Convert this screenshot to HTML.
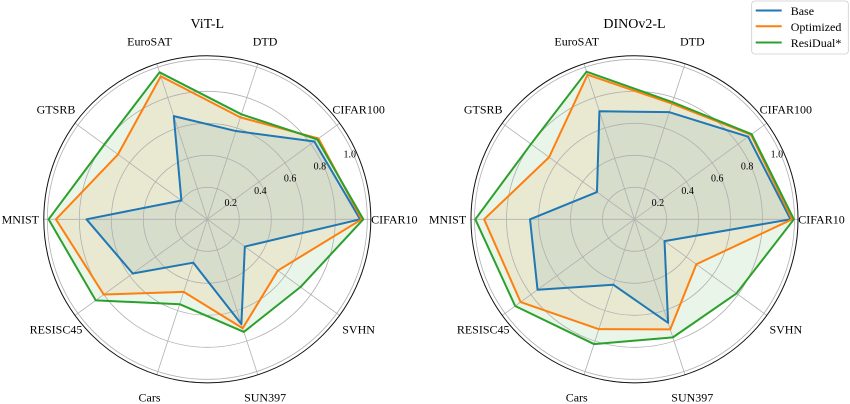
<!DOCTYPE html>
<html>
<head>
<meta charset="utf-8">
<style>
html,body{margin:0;padding:0;background:#fff;}
svg{display:block;}
text{font-family:"Liberation Serif","DejaVu Serif",serif;fill:#000;}
.ax{font-size:12px;text-anchor:middle;}
.rt{font-size:10px;text-anchor:middle;}
.ti{font-size:14px;text-anchor:middle;}
.lg{font-size:12px;}
</style>
</head>
<body>
<svg width="850" height="404" viewBox="0 0 850 404" xmlns="http://www.w3.org/2000/svg">
<rect width="850" height="404" fill="#fff"/>

<!-- ===== LEFT CHART: ViT-L ===== -->
<g transform="translate(207.3 219.3) scale(160 -160)">
  <!-- fills -->
  <polygon fill="#1f77b4" fill-opacity="0.1" points="0.955,0 0.6691,0.4861 0.1792,0.5516 -0.2095,0.6448 -0.1618,0.1176 -0.755,0 -0.4660,-0.3386 -0.0881,-0.2711 0.2129,-0.6553 0.2346,-0.1705"/>
  <polygon fill="#ff7f0e" fill-opacity="0.1" points="0.965,0 0.6949,0.5049 0.2070,0.6372 -0.2905,0.8940 -0.5582,0.4056 -0.946,0 -0.6472,-0.4702 -0.1474,-0.4537 0.2213,-0.6810 0.4409,-0.3203"/>
  <polygon fill="#2ca02c" fill-opacity="0.1" points="0.975,0 0.6877,0.4996 0.2132,0.6562 -0.2985,0.9187 -0.6432,0.4673 -0.992,0 -0.6974,-0.5067 -0.1724,-0.5307 0.2287,-0.7038 0.5825,-0.4232"/>
  <!-- grid -->
  <g fill="none" stroke="#b0b0b0" stroke-width="0.8" vector-effect="non-scaling-stroke">
    <circle r="0.2" vector-effect="non-scaling-stroke"/>
    <circle r="0.4" vector-effect="non-scaling-stroke"/>
    <circle r="0.6" vector-effect="non-scaling-stroke"/>
    <circle r="0.8" vector-effect="non-scaling-stroke"/>
    <circle r="1.0" vector-effect="non-scaling-stroke"/>
    <line x1="-1.022" y1="0" x2="1.022" y2="0" vector-effect="non-scaling-stroke"/>
    <line x1="0.8268" y1="0.6007" x2="-0.8268" y2="-0.6007" vector-effect="non-scaling-stroke"/>
    <line x1="0.3158" y1="0.9720" x2="-0.3158" y2="-0.9720" vector-effect="non-scaling-stroke"/>
    <line x1="-0.3158" y1="0.9720" x2="0.3158" y2="-0.9720" vector-effect="non-scaling-stroke"/>
    <line x1="-0.8268" y1="0.6007" x2="0.8268" y2="-0.6007" vector-effect="non-scaling-stroke"/>
  </g>
  <circle r="1.022" fill="none" stroke="#111" stroke-width="1" vector-effect="non-scaling-stroke"/>
  <!-- lines -->
  <g fill="none" stroke-width="2" stroke-linejoin="round">
    <polygon stroke="#1f77b4" vector-effect="non-scaling-stroke" points="0.955,0 0.6691,0.4861 0.1792,0.5516 -0.2095,0.6448 -0.1618,0.1176 -0.755,0 -0.4660,-0.3386 -0.0881,-0.2711 0.2129,-0.6553 0.2346,-0.1705"/>
    <polygon stroke="#ff7f0e" vector-effect="non-scaling-stroke" points="0.965,0 0.6949,0.5049 0.2070,0.6372 -0.2905,0.8940 -0.5582,0.4056 -0.946,0 -0.6472,-0.4702 -0.1474,-0.4537 0.2213,-0.6810 0.4409,-0.3203"/>
    <polygon stroke="#2ca02c" vector-effect="non-scaling-stroke" points="0.975,0 0.6877,0.4996 0.2132,0.6562 -0.2985,0.9187 -0.6432,0.4673 -0.992,0 -0.6974,-0.5067 -0.1724,-0.5307 0.2287,-0.7038 0.5825,-0.4232"/>
  </g>
</g>
<text class="ti" x="207.3" y="28">ViT-L</text>
<text class="ax" x="394.3" y="223.5">CIFAR10</text>
<text class="ax" x="358.6" y="113.5">CIFAR100</text>
<text class="ax" x="265.1" y="45.5">DTD</text>
<text class="ax" x="149.5" y="45.5">EuroSAT</text>
<text class="ax" x="56" y="113.5">GTSRB</text>
<text class="ax" x="20.3" y="223.5">MNIST</text>
<text class="ax" x="56" y="333.4">RESISC45</text>
<text class="ax" x="149.5" y="401.3">Cars</text>
<text class="ax" x="265.1" y="401.3">SUN397</text>
<text class="ax" x="358.6" y="333.4">SVHN</text>
<text class="rt" x="230.7" y="206.1">0.2</text>
<text class="rt" x="260.4" y="193.9">0.4</text>
<text class="rt" x="290.1" y="181.7">0.6</text>
<text class="rt" x="319.9" y="169.5">0.8</text>
<text class="rt" x="349.7" y="157.3">1.0</text>

<!-- ===== RIGHT CHART: DINOv2-L ===== -->
<g transform="translate(634.5 219.3) scale(160 -160)">
  <polygon fill="#1f77b4" fill-opacity="0.1" points="0.975,0 0.7103,0.5161 0.2176,0.6695 -0.2194,0.6753 -0.2346,0.1705 -0.653,0 -0.6060,-0.4403 -0.1329,-0.4090 0.2101,-0.6467 0.1877,-0.1364"/>
  <polygon fill="#ff7f0e" fill-opacity="0.1" points="0.985,0 0.7281,0.5290 0.2349,0.7228 -0.2936,0.9035 -0.5340,0.3879 -0.94,0 -0.7119,-0.5173 -0.2231,-0.6867 0.2234,-0.6876 0.3867,-0.2810"/>
  <polygon fill="#2ca02c" fill-opacity="0.1" points="0.996,0 0.7322,0.5319 0.2379,0.7323 -0.2997,0.9225 -0.6472,0.4702 -0.995,0 -0.7459,-0.5419 -0.2534,-0.7799 0.2398,-0.7380 0.6375,-0.4632"/>
  <g fill="none" stroke="#b0b0b0" stroke-width="0.8">
    <circle r="0.2" vector-effect="non-scaling-stroke"/>
    <circle r="0.4" vector-effect="non-scaling-stroke"/>
    <circle r="0.6" vector-effect="non-scaling-stroke"/>
    <circle r="0.8" vector-effect="non-scaling-stroke"/>
    <circle r="1.0" vector-effect="non-scaling-stroke"/>
    <line x1="-1.022" y1="0" x2="1.022" y2="0" vector-effect="non-scaling-stroke"/>
    <line x1="0.8268" y1="0.6007" x2="-0.8268" y2="-0.6007" vector-effect="non-scaling-stroke"/>
    <line x1="0.3158" y1="0.9720" x2="-0.3158" y2="-0.9720" vector-effect="non-scaling-stroke"/>
    <line x1="-0.3158" y1="0.9720" x2="0.3158" y2="-0.9720" vector-effect="non-scaling-stroke"/>
    <line x1="-0.8268" y1="0.6007" x2="0.8268" y2="-0.6007" vector-effect="non-scaling-stroke"/>
  </g>
  <circle r="1.022" fill="none" stroke="#111" stroke-width="1" vector-effect="non-scaling-stroke"/>
  <g fill="none" stroke-width="2" stroke-linejoin="round">
    <polygon stroke="#1f77b4" vector-effect="non-scaling-stroke" points="0.975,0 0.7103,0.5161 0.2176,0.6695 -0.2194,0.6753 -0.2346,0.1705 -0.653,0 -0.6060,-0.4403 -0.1329,-0.4090 0.2101,-0.6467 0.1877,-0.1364"/>
    <polygon stroke="#ff7f0e" vector-effect="non-scaling-stroke" points="0.985,0 0.7281,0.5290 0.2349,0.7228 -0.2936,0.9035 -0.5340,0.3879 -0.94,0 -0.7119,-0.5173 -0.2231,-0.6867 0.2234,-0.6876 0.3867,-0.2810"/>
    <polygon stroke="#2ca02c" vector-effect="non-scaling-stroke" points="0.996,0 0.7322,0.5319 0.2379,0.7323 -0.2997,0.9225 -0.6472,0.4702 -0.995,0 -0.7459,-0.5419 -0.2534,-0.7799 0.2398,-0.7380 0.6375,-0.4632"/>
  </g>
</g>
<text class="ti" x="634.5" y="28">DINOv2-L</text>
<text class="ax" x="821.5" y="223.5">CIFAR10</text>
<text class="ax" x="785.8" y="113.5">CIFAR100</text>
<text class="ax" x="692.3" y="45.5">DTD</text>
<text class="ax" x="576.7" y="45.5">EuroSAT</text>
<text class="ax" x="483.2" y="113.5">GTSRB</text>
<text class="ax" x="447.5" y="223.5">MNIST</text>
<text class="ax" x="483.2" y="333.4">RESISC45</text>
<text class="ax" x="576.7" y="401.3">Cars</text>
<text class="ax" x="692.3" y="401.3">SUN397</text>
<text class="ax" x="785.8" y="333.4">SVHN</text>
<text class="rt" x="657.9" y="206.1">0.2</text>
<text class="rt" x="687.6" y="193.9">0.4</text>
<text class="rt" x="717.3" y="181.7">0.6</text>
<text class="rt" x="747.1" y="169.5">0.8</text>
<text class="rt" x="776.9" y="157.3">1.0</text>

<!-- ===== LEGEND ===== -->
<rect x="751.7" y="1" width="96.6" height="53" rx="3" ry="3" fill="#fff" fill-opacity="0.8" stroke="#cccccc" stroke-width="0.8"/>
<line x1="755.7" y1="10.5" x2="781.7" y2="10.5" stroke="#1f77b4" stroke-width="2"/>
<line x1="755.7" y1="26.3" x2="781.7" y2="26.3" stroke="#ff7f0e" stroke-width="2"/>
<line x1="755.7" y1="42.5" x2="781.7" y2="42.5" stroke="#2ca02c" stroke-width="2"/>
<text class="lg" x="790.7" y="15">Base</text>
<text class="lg" x="790.7" y="30.8">Optimized</text>
<text class="lg" x="790.7" y="47">ResiDual*</text>
</svg>
</body>
</html>
